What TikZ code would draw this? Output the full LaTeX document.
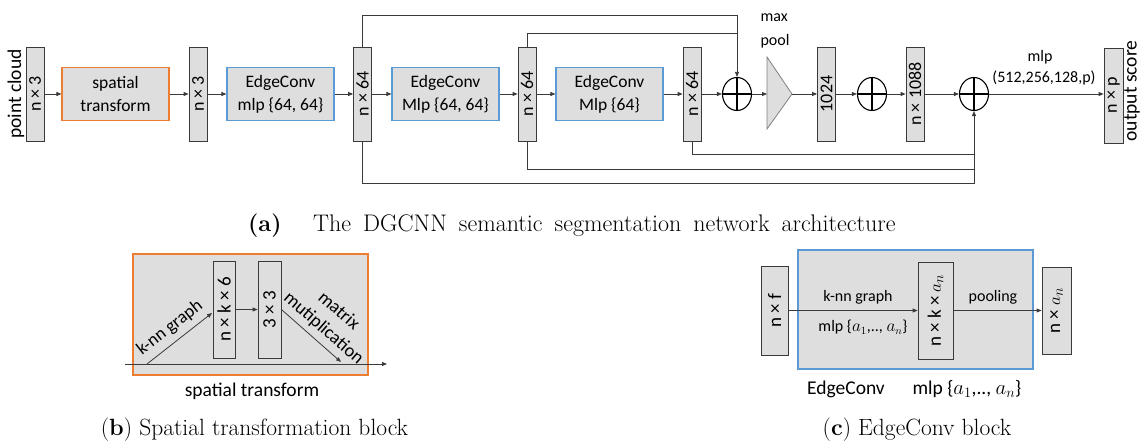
\documentclass[tikz,border=0pt]{standalone}
\usepackage{fontspec}
\usetikzlibrary{arrows.meta,shapes.geometric,calc}
\newfontfamily\calib{Carlito}
\newcommand\fsz[2]{\fontsize{#1}{#2}\selectfont}
\definecolor{boxgray}{HTML}{DEDEDE}
\definecolor{edgec}{HTML}{3A3A3A}
\definecolor{orng}{HTML}{ED7D31}
\definecolor{blu}{HTML}{5B9BD5}
\tikzset{
  vbox/.style={draw=edgec, fill=boxgray, line width=0.8pt, minimum width=18, minimum height=94, inner sep=0pt, font=\calib\fsz{18}{20}},
  hbox/.style={fill=boxgray, line width=1.1pt, minimum width=107, minimum height=53, inner sep=0pt, align=center, font=\calib\fsz{17.5}{23}},
  bigbox/.style={fill=boxgray, line width=1.2pt, inner sep=0pt},
  oplus/.style={ellipse, draw=black, line width=1.1pt, minimum width=29, minimum height=33, inner sep=0pt,
    path picture={\draw[line width=1.1pt] (path picture bounding box.north) -- (path picture bounding box.south)
      (path picture bounding box.west) -- (path picture bounding box.east);}},
  arr/.style={-{Triangle[length=5pt,width=4pt]}, draw=edgec, line width=0.8pt},
  ln/.style={draw=edgec, line width=0.8pt},
  small/.style={font=\calib\fsz{16}{24}, inner sep=0pt},
  side/.style={font=\calib\fsz{19.5}{22}, inner sep=0pt},
  captxt/.style={font=\fsz{23.5}{26}, inner sep=0pt},
}
\begin{document}
\begin{tikzpicture}[x=1pt,y=-1pt]
\useasboundingbox (0,0) rectangle (1141,443);
% ---------- (a) main network ----------
\node[side] (pclab) at (16,94) {\rotatebox{90}{point cloud}};
\node[vbox] (pc) at (35,94) {\rotatebox{90}{n × 3}};
\node[hbox, draw=orng] (st) at (115.5,94) {spatial\\transform};
\node[vbox] (n3) at (198,94) {\rotatebox{90}{n × 3}};
\node[hbox, draw=blu] (ec1) at (280.5,94) {EdgeConv\\mlp \{64, 64\}};
\node[vbox] (n64a) at (362.5,94) {\rotatebox{90}{n × 64}};
\node[hbox, draw=blu] (ec2) at (445.5,94) {EdgeConv\\Mlp \{64, 64\}};
\node[vbox] (n64b) at (527,94) {\rotatebox{90}{n × 64}};
\node[hbox, draw=blu] (ec3) at (609.5,94) {EdgeConv\\Mlp \{64\}};
\node[vbox] (n64c) at (692,94) {\rotatebox{90}{n × 64}};
\node[oplus] (p1) at (737,94) {};
\draw[draw=gray, fill=boxgray, line width=0.8pt] (767,57) -- (792,94) -- (767,129) -- cycle;
\coordinate (mpl) at (767,94);
\coordinate (mpr) at (792,94);
\node[small, align=left] (mptxt) at (775,31) {max\\pool};
\node[vbox] (b1024) at (826.5,94) {\rotatebox{90}{1024}};
\node[oplus] (p2) at (872,94) {};
\node[vbox] (n1088) at (915,94) {\rotatebox{90}{n × 1088}};
\node[oplus] (p3) at (974,94) {};
\node[vbox, minimum width=19, minimum height=95] (nxp) at (1113.5,95.5) {\rotatebox{90}{n × p}};
\node[side] (oslab) at (1132,91) {\rotatebox{90}{output score}};
\node[small] (mlp) at (1040,57) {mlp};
\node[small] (mlpargs) at (1044,78) {(512,256,128,p)};
% main arrows
\draw[arr] (pc) -- (st);
\draw[arr] (st) -- (n3);
\draw[arr] (n3) -- (ec1);
\draw[arr] (ec1) -- (n64a);
\draw[arr] (n64a) -- (ec2);
\draw[arr] (ec2) -- (n64b);
\draw[arr] (n64b) -- (ec3);
\draw[arr] (ec3) -- (n64c);
\draw[arr] (n64c) -- (p1);
\draw[arr] (p1) -- (mpl);
\draw[arr] (mpr) -- (b1024);
\draw[arr] (b1024) -- (p2);
\draw[arr] (p2) -- (n1088);
\draw[arr] (n1088) -- (p3);
\draw[arr] (p3.east) -- (p3.east -| nxp.west);
% skip connections
\coordinate (t1) at (737,15);
\coordinate (t2) at (737,33);
\draw[arr] (n64a.north) |- (t1) -- (p1.north);
\draw[ln] (n64b.north) |- (t2);
\coordinate (u1) at (974,183);
\coordinate (u2) at (974,169);
\coordinate (u3) at (974,154);
\draw[ln] (n64c.south) |- (u3);
\draw[ln] (n64b.south) |- (u2);
\draw[arr] (n64a.south) |- (u1) -- (p3.south);
\node[captxt, anchor=base west] (capalbl) at (248,232) {\textbf{(a)}};
\node[captxt, anchor=base west, font=\fsz{24}{26}] (capa) at (313,232) {\spaceskip=12pt plus 1pt\relax The DGCNN semantic segmentation network architecture};
% ---------- (b) spatial transform ----------
\node[bigbox, draw=orng, minimum width=235, minimum height=121] (sb) at (250.5,314.5) {};
\coordinate (sin) at (125,364);
\coordinate (sout) at (387,364);
\draw[arr] (sin) -- (sout);
\node[vbox, minimum width=22, minimum height=97, font=\calib\fsz{19}{21}] (nk6) at (224,309.5) {\rotatebox{90}{n × k × 6}};
\node[vbox, minimum width=23, minimum height=97, font=\calib\fsz{19}{21}] (b33) at (269.5,309.5) {\rotatebox{90}{3 × 3}};
\draw[arr] (nk6) -- (b33);
\coordinate (ks) at (147,364);
\coordinate (kend) at (212,313);
\draw[arr] (ks) -- (kend);
\coordinate (me) at (341,362);
\draw[arr] (b33.east) -- (me);
\node[side, rotate=38, font=\calib\fsz{18}{20}] (knn) at (170,328) {k-nn graph};
\node[side, rotate=-41, align=center, font=\calib\fsz{18.5}{23}] (matm) at (331,320) {matrix\\mutiplication};
\node[side] (stlab) at (252,391) {spatial transform};
\node[captxt] (capb) at (254.5,430) {(\textbf{b}) Spatial transformation block};
% ---------- (c) EdgeConv ----------
\node[bigbox, draw=blu, minimum width=235, minimum height=119] (ecb) at (915.5,309.5) {};
\node[vbox, minimum width=27, minimum height=89, font=\calib\fsz{19}{21}] (nf) at (774.5,310.5) {\rotatebox{90}{n × f}};
\node[vbox, minimum width=35, minimum height=97, font=\calib\fsz{19}{21}] (nka) at (935.5,310.5) {\rotatebox{90}{n × k × $a_n$}};
\node[vbox, minimum width=29, minimum height=87, font=\calib\fsz{19}{21}] (nan) at (1056.5,310.5) {\rotatebox{90}{n × $a_n$}};
\draw[arr] (nf) -- (nka);
\draw[arr] (nka) -- (nan);
\node[small] (cknn) at (858,297) {k-nn graph};
\node[small] (cmlp) at (863,327) {mlp \{$a_1$,.., $a_n$\}};
\node[small] (cpool) at (993,297) {pooling};
\node[side] (cec) at (846,389) {EdgeConv};
\node[side] (cmlp2) at (967,389) {mlp \{$a_1$,.., $a_n$\}};
\node[captxt] (capc) at (917,430) {(\textbf{c}) EdgeConv block};
\end{tikzpicture}
\end{document}
